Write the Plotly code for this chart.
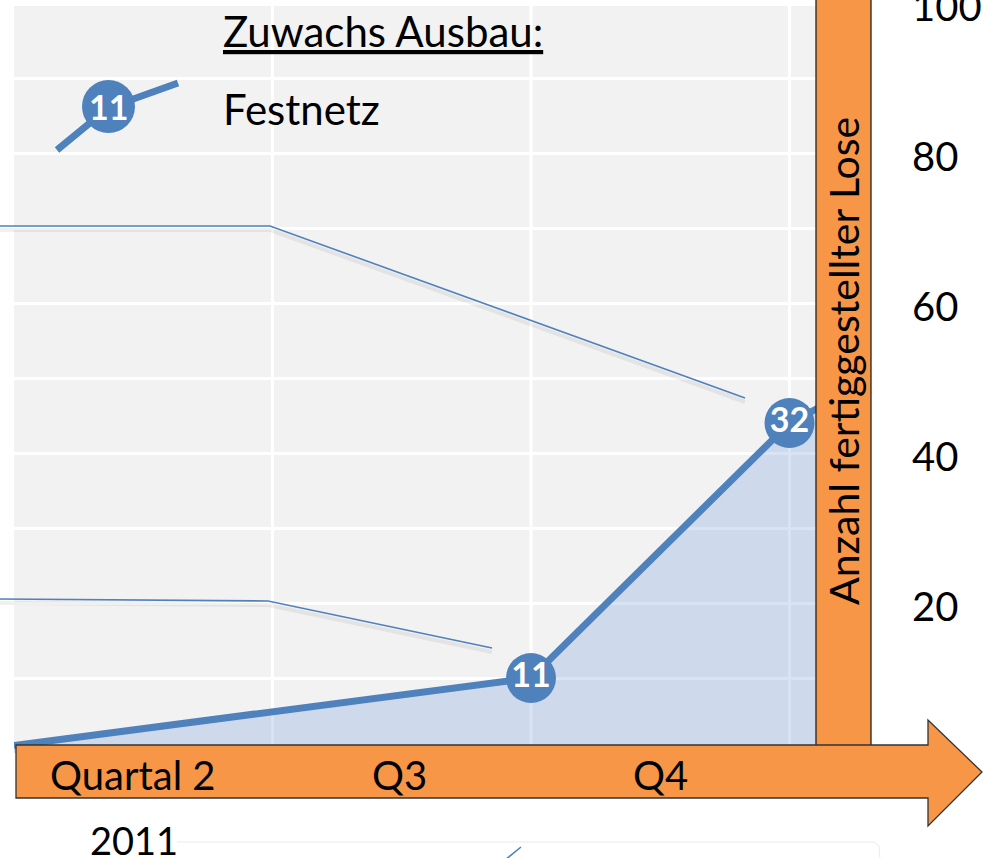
import plotly.graph_objects as go

# ---------------- data ----------------
quarters = ["Quartal 2", "Q3", "Q4"]
quarter_pos = [0.5, 1.5, 2.5]
quarter_label_shift = [-10, -2, 0]
quarter_bounds = [1, 2, 3]
year_label = "2011"
x_points = [0, 2, 3, 4]
festnetz_cumulative = [1, 10, 44, 62]
zuwachs_labels = ["", "11", "32", ""]
marker_sizes = [0, 50, 50, 50]
y_tickvals = [10, 20, 30, 40, 50, 60, 70, 80, 90, 100]
y_ticktext = ["", "20", "", "40", "", "60", "", "80", "", "100"]
legend_title = "Zuwachs Ausbau:"
series_name = "Festnetz"
legend_sample_label = "11"
y_title = "Anzahl fertiggestellter Lose"

# ---------------- geometry helpers ----------------
W, H = 987, 858
ML, MR, MT, MB = 14, 171, 0, 105
PW = W - ML - MR
PH = H - MT - MB
X_UNIT = 258.5   # px per quarter
Y_UNIT = 7.5     # px per Los

def px(x):
    return (x - ML) / PW

def py(y):
    return (H - MB - y) / PH

def path(points, close=False):
    s = "M " + " L ".join(f"{px(a):.5f},{py(b):.5f}" for a, b in points)
    return s + (" Z" if close else "")

BLUE = "#4f81bd"
ORANGE = "#f79646"
FONT = "Lato"

fig = go.Figure()
fig.add_trace(go.Scatter(
    x=x_points, y=festnetz_cumulative, name=series_name,
    mode="lines+markers+text",
    line=dict(color=BLUE, width=7),
    marker=dict(size=marker_sizes, color=BLUE, opacity=1, line=dict(width=0)),
    text=zuwachs_labels, textposition="middle center",
    textfont=dict(family=FONT, size=34, color="white", weight="bold"),
    fill="tozeroy", fillcolor="rgba(115,155,220,0.28)",
    showlegend=False, hoverinfo="skip",
))

shapes = []
# vertical grid lines at quarter boundaries
for b in quarter_bounds:
    shapes.append(dict(type="line", xref="x", yref="paper", x0=b, x1=b, y0=0, y1=1,
                       line=dict(color="white", width=3), layer="below"))
# white strip at the very top
shapes.append(dict(type="rect", xref="paper", yref="paper", x0=px(ML), x1=px(816),
                   y0=py(6), y1=py(0) + 0.01, fillcolor="white", line=dict(width=0), layer="above"))

# leader lines (with faint shadow)
leader1 = [(0, 226), (270, 226), (745, 398)]
leader2 = [(0, 599), (268, 601), (492, 648)]
leader3 = [(505, 860), (521, 847)]
for ld in (leader1, leader2):
    shapes.append(dict(type="path", xref="paper", yref="paper",
                       path=path([(a, b + 4) for a, b in ld]),
                       line=dict(color="rgba(0,0,0,0.06)", width=4), layer="above"))
for ld in (leader1, leader2, leader3):
    shapes.append(dict(type="path", xref="paper", yref="paper", path=path(ld),
                       line=dict(color=BLUE, width=1.6), layer="above"))
# faint box edge at bottom
shapes.append(dict(type="path", xref="paper", yref="paper",
                   path=path([(177, 842), (874, 842), (879, 846), (880, 860)]),
                   line=dict(color="#ebebeb", width=1), layer="above"))

# orange vertical axis bar
shapes.append(dict(type="rect", xref="paper", yref="paper", x0=px(816), x1=px(871),
                   y0=py(746), y1=py(-2), fillcolor=ORANGE,
                   line=dict(color="#222", width=1.3), layer="above"))
# orange arrow (x axis)
arrow = [(16, 745), (928, 745), (928, 720), (982, 772), (928, 826), (928, 798), (16, 798)]
shapes.append(dict(type="path", xref="paper", yref="paper", path=path(arrow, close=True),
                   fillcolor=ORANGE, line=dict(color="#333", width=1.3), layer="above"))

# legend sample: line with labelled marker
shapes.append(dict(type="path", xref="paper", yref="paper",
                   path=path([(57, 150), (108, 108), (178, 83)]),
                   line=dict(color=BLUE, width=7), layer="above"))
shapes.append(dict(type="circle", xref="paper", yref="paper",
                   x0=px(82), x1=px(135), y0=py(133), y1=py(80),
                   fillcolor=BLUE, line=dict(width=0), layer="above"))

annotations = [
    dict(text=f"<u>{legend_title}</u>", xref="paper", yref="paper", x=px(221), y=py(31),
         xanchor="left", yanchor="middle", showarrow=False,
         font=dict(family=FONT, size=42, color="black")),
    dict(text=series_name, xref="paper", yref="paper", x=px(221), y=py(109),
         xanchor="left", yanchor="middle", showarrow=False,
         font=dict(family=FONT, size=42, color="black")),
    dict(text=legend_sample_label, xref="paper", yref="paper", x=px(108), y=py(107),
         xanchor="center", yanchor="middle", showarrow=False,
         font=dict(family=FONT, size=34, color="white", weight="bold")),
    dict(text=y_title, xref="paper", yref="paper", x=px(843), y=py(361),
         xanchor="center", yanchor="middle", textangle=-90, showarrow=False,
         font=dict(family=FONT, size=41, color="black")),
    dict(text=year_label, xref="x", yref="paper", x=quarter_pos[0], y=py(840),
         xshift=-9, xanchor="center", yanchor="middle", showarrow=False,
         font=dict(family=FONT, size=38, color="black")),
]
for q, pos, sh in zip(quarters, quarter_pos, quarter_label_shift):
    annotations.append(dict(text=q, xref="x", yref="paper", x=pos, y=py(775), xshift=sh,
                            xanchor="center", yanchor="middle", showarrow=False,
                            font=dict(family=FONT, size=40, color="black")))

fig.update_layout(
    width=W, height=H,
    margin=dict(l=ML, r=MR, t=MT, b=MB, pad=0, autoexpand=False),
    paper_bgcolor="white", plot_bgcolor="#f2f2f2",
    font=dict(family=FONT, color="black"),
    xaxis=dict(range=[0, PW / X_UNIT], showgrid=False, zeroline=False, showline=False,
               showticklabels=False, ticks="", fixedrange=True, automargin=False),
    yaxis=dict(range=[0, PH / Y_UNIT], side="right", tickmode="array",
               tickvals=y_tickvals, ticktext=y_ticktext, showgrid=True,
               gridcolor="white", gridwidth=3, zeroline=False, showline=False,
               ticks="", ticklabelstandoff=95, ticklabelshift=4, ticklabeloverflow="allow",
               automargin=False,
               tickfont=dict(family=FONT, size=40, color="black"), fixedrange=True),
    shapes=shapes, annotations=annotations, showlegend=False,
)

fig.write_html("out.html", config={"displayModeBar": False},
               post_script="document.body.style.margin='0px';")
